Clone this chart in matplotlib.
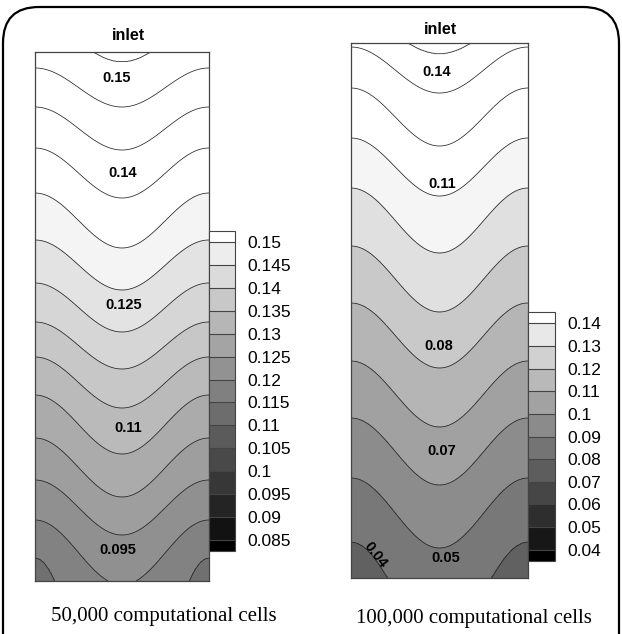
import matplotlib.pyplot as plt
import numpy as np
from matplotlib.colors import ListedColormap, BoundaryNorm
from matplotlib.cm import ScalarMappable
from matplotlib.patches import FancyBboxPatch
from matplotlib.transforms import IdentityTransform

# contour lines, pixels from each panel's top-left corner:
# y where a line meets the side walls, and y of its dip on the centre line
left_w, left_h = 174, 529
left_edge_y = [-30, 16, 55, 96, 141, 188, 231, 270, 305, 343, 386, 428, 468, 506]
left_mid_y = [10, 55, 98, 146, 196, 238, 280, 317, 356, 402, 445, 483, 533, 692]
left_band_grey = [1, 1, 1, 1, 1, .955, .89, .84, .78, .73, .67, .62, .565, .51, .44]
left_labels = ["0.15", "0.14", "0.125", "0.11", "0.095"]
left_label_xy = [(82, 26), (88, 121), (89, 253), (93, 376), (83, 498)]

right_w, right_h = 177, 535
right_edge_y = [-27, 4, 45, 95, 145, 203, 260, 318, 375, 435, 499]
right_mid_y = [11, 50, 103, 153, 210, 269, 325, 384, 442, 505, 597]
right_band_grey = [1, 1, 1, 1, .96, .88, .79, .71, .63, .55, .47, .38]
right_labels = ["0.14", "0.11", "0.08", "0.07", "0.05"]
right_label_xy = [(86, 29), (91, 141), (88, 303), (91, 408), (95, 515)]

# legend scales
left_ticks = [0.085, 0.09, 0.095, 0.1, 0.105, 0.11, 0.115, 0.12, 0.125, 0.13,
              0.135, 0.14, 0.145, 0.15]
left_tick_labels = ["0.085", "0.09", "0.095", "0.1", "0.105", "0.11", "0.115",
                    "0.12", "0.125", "0.13", "0.135", "0.14", "0.145", "0.15"]
right_ticks = [0.04, 0.05, 0.06, 0.07, 0.08, 0.09, 0.1, 0.11, 0.12, 0.13, 0.14]
right_tick_labels = ["0.04", "0.05", "0.06", "0.07", "0.08", "0.09", "0.1",
                     "0.11", "0.12", "0.13", "0.14"]

captions = ["50,000 computational cells", "100,000 computational cells"]

SANS = "Liberation Sans"
SERIF = "Liberation Serif"


def band_field(edge_y, mid_y, w, h):
    x = np.linspace(0, w, 350)
    y = np.linspace(0, h, 1000)
    s = (1 - np.cos(2 * np.pi * x / w)) / 2
    idx = np.arange(len(edge_y) + 2)
    f = np.empty((len(y), len(x)))
    for j, sj in enumerate(s):
        yk = [(1 - sj) * e + sj * m for e, m in zip(edge_y, mid_y)]
        f[:, j] = np.interp(y, [-1e4] + yk + [1e4], idx)
    return x, y, f


def draw_panel(ax, edge_y, mid_y, w, h, greys, labels, label_xy):
    x, y, f = band_field(edge_y, mid_y, w, h)
    n = len(edge_y)
    levels = [-1] + list(range(1, n + 1)) + [n + 2]
    ax.contourf(x, y, f, levels=levels, colors=[str(g) for g in greys])
    ax.contour(x, y, f, levels=list(range(1, n + 1)), colors="#262626",
               linewidths=0.55)
    for txt, (lx, ly) in zip(labels, label_xy):
        ax.text(lx, ly, txt, ha="center", va="center", fontsize=10.5,
                fontweight="bold", family=SANS)
    ax.set_xlim(0, w)
    ax.set_ylim(h, 0)
    ax.set_xticks([])
    ax.set_yticks([])
    for sp in ax.spines.values():
        sp.set_color("#444444")
        sp.set_linewidth(0.9)


def draw_scale(fig, rect, ticks, tick_labels):
    step = ticks[1] - ticks[0]
    bounds = [ticks[0] - step / 2] + ticks + [ticks[-1] + (ticks[-1] - ticks[-2]) / 2]
    greys = np.linspace(0, 1, len(bounds) - 1)
    cmap = ListedColormap([str(g) for g in greys])
    norm = BoundaryNorm(bounds, cmap.N)
    cax = fig.add_axes(rect)
    cb = fig.colorbar(ScalarMappable(norm=norm, cmap=cmap), cax=cax,
                      boundaries=bounds, ticks=ticks, spacing="proportional",
                      drawedges=True)
    cb.set_ticklabels(tick_labels)
    cb.ax.minorticks_off()
    cb.ax.tick_params(length=0, pad=9, labelsize=12.5)
    for t in cb.ax.get_yticklabels():
        t.set_family(SANS)
    cb.outline.set_edgecolor("#444444")
    cb.outline.set_linewidth(0.8)
    cb.dividers.set_color("#444444")
    cb.dividers.set_linewidth(0.8)


fig = plt.figure(figsize=(6.22, 6.34), dpi=100)

ax1 = fig.add_axes([35 / 622, 1 - 581 / 634, 174 / 622, 529 / 634])
draw_panel(ax1, left_edge_y, left_mid_y, left_w, left_h, left_band_grey,
           left_labels, left_label_xy)
ax2 = fig.add_axes([351 / 622, 1 - 578 / 634, 177 / 622, 535 / 634])
draw_panel(ax2, right_edge_y, right_mid_y, right_w, right_h, right_band_grey,
           right_labels, right_label_xy)
ax2.text(24, 512, "0.04", ha="center", va="center", fontsize=10.5,
         fontweight="bold", family=SANS, rotation=-52)

draw_scale(fig, [209 / 622, 1 - 551 / 634, 26 / 622, 320 / 634],
           left_ticks, left_tick_labels)
draw_scale(fig, [528 / 622, 1 - 561 / 634, 27 / 622, 249 / 634],
           right_ticks, right_tick_labels)

fig.text(128 / 622, 1 - 36 / 634, "inlet", ha="center", va="center",
         fontsize=11.5, fontweight="bold", family=SANS)
fig.text(440 / 622, 1 - 29 / 634, "inlet", ha="center", va="center",
         fontsize=11.5, fontweight="bold", family=SANS)

fig.text(164 / 622, 1 - 617 / 634, captions[0], ha="center", va="center",
         fontsize=15, family=SERIF)
fig.text(474 / 622, 1 - 618 / 634, captions[1], ha="center", va="center",
         fontsize=15, family=SERIF)

frame = FancyBboxPatch((3, -60), 616, 634 - 7 + 60,
                       boxstyle="round,pad=0,rounding_size=36",
                       transform=IdentityTransform(), fill=False,
                       lw=1.6, ec="black")
fig.add_artist(frame)

fig.savefig("out.png", dpi=100)
